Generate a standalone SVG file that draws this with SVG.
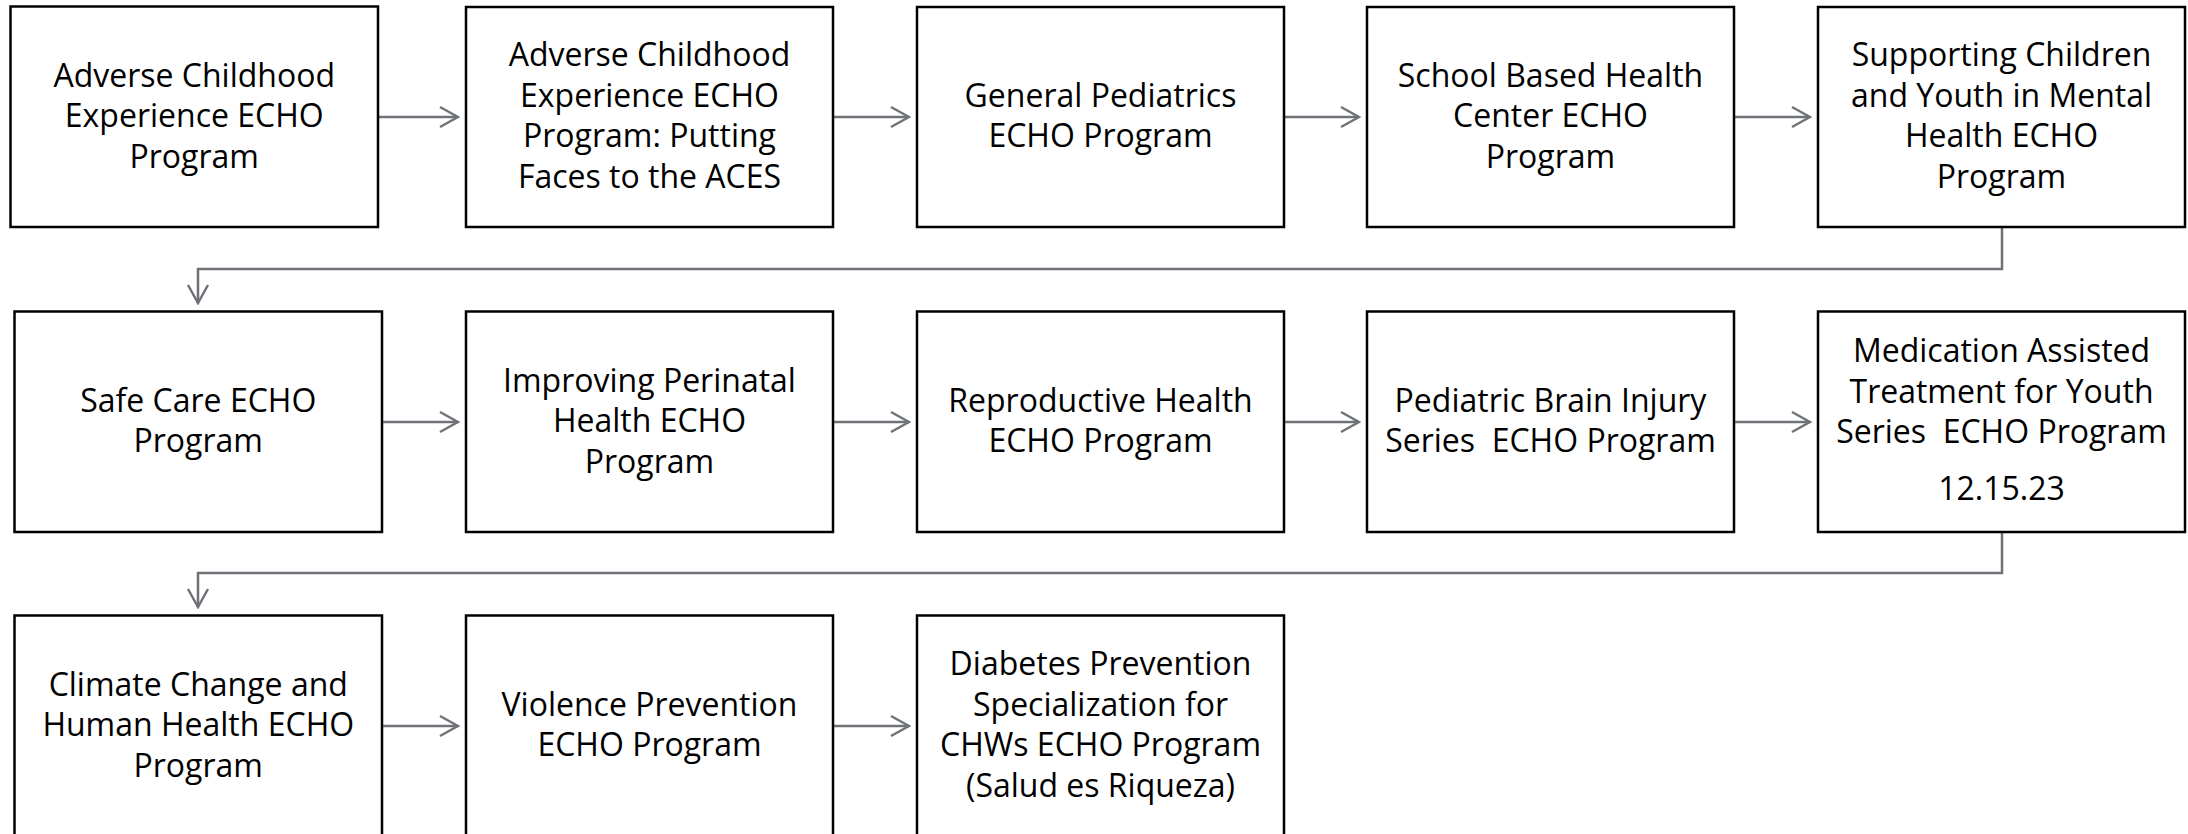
<svg xmlns="http://www.w3.org/2000/svg" width="2188" height="834" viewBox="0 0 2188 834">
<style>
.box{fill:#fff;stroke:#000;stroke-width:2.5}
.lbl{font-family:"Open Sans","Noto Sans","Liberation Sans",sans-serif;font-size:32px;fill:#000;text-anchor:middle}
.con{fill:none;stroke:#6f7378;stroke-width:2.5}
</style>
<defs>
<marker id="ah" markerUnits="userSpaceOnUse" viewBox="-22 -12 24 24" refX="0" refY="0" markerWidth="24" markerHeight="24" orient="auto">
<path d="M-18,-10 L0,0 L-18,10" fill="none" stroke="#6f7378" stroke-width="2.5"/>
</marker>
</defs>
<rect width="2188" height="834" fill="#fff"/>
<g id="connectors">
<path class="con" marker-end="url(#ah)" d="M378,117 H458"/>
<path class="con" marker-end="url(#ah)" d="M833,117 H909"/>
<path class="con" marker-end="url(#ah)" d="M1284,117 H1359"/>
<path class="con" marker-end="url(#ah)" d="M1734,117 H1810"/>
<path class="con" marker-end="url(#ah)" d="M2002,227 V269 H198 V303"/>
<path class="con" marker-end="url(#ah)" d="M382,422 H458"/>
<path class="con" marker-end="url(#ah)" d="M833,422 H909"/>
<path class="con" marker-end="url(#ah)" d="M1284,422 H1359"/>
<path class="con" marker-end="url(#ah)" d="M1734,422 H1810"/>
<path class="con" marker-end="url(#ah)" d="M2002,532 V573 H198 V607"/>
<path class="con" marker-end="url(#ah)" d="M382,726 H458"/>
<path class="con" marker-end="url(#ah)" d="M833,726 H909"/>
</g>
<g id="n1"><rect class="box" x="10.5" y="6.5" width="367.5" height="220.5"/>
<text class="lbl"><tspan x="194.25" y="86.5">Adverse Childhood</tspan><tspan x="194.25" y="127">Experience ECHO</tspan><tspan x="194.25" y="167.5">Program</tspan></text></g>
<g id="n2"><rect class="box" x="466" y="7" width="367" height="220"/>
<text class="lbl"><tspan x="649.5" y="66.25">Adverse Childhood</tspan><tspan x="649.5" y="106.75">Experience ECHO</tspan><tspan x="649.5" y="147.25">Program: Putting</tspan><tspan x="649.5" y="187.75">Faces to the ACES</tspan></text></g>
<g id="n3"><rect class="box" x="917" y="7" width="367" height="220"/>
<text class="lbl"><tspan x="1100.5" y="106.75">General Pediatrics</tspan><tspan x="1100.5" y="147.25">ECHO Program</tspan></text></g>
<g id="n4"><rect class="box" x="1367" y="7" width="367" height="220"/>
<text class="lbl"><tspan x="1550.5" y="86.5">School Based Health</tspan><tspan x="1550.5" y="127">Center ECHO</tspan><tspan x="1550.5" y="167.5">Program</tspan></text></g>
<g id="n5"><rect class="box" x="1818" y="7" width="367" height="220"/>
<text class="lbl"><tspan x="2001.5" y="66.25">Supporting Children</tspan><tspan x="2001.5" y="106.75">and Youth in Mental</tspan><tspan x="2001.5" y="147.25">Health ECHO</tspan><tspan x="2001.5" y="187.75">Program</tspan></text></g>
<g id="n6"><rect class="box" x="14.5" y="311.5" width="367.5" height="220.5"/>
<text class="lbl"><tspan x="198.25" y="411.75">Safe Care ECHO</tspan><tspan x="198.25" y="452.25">Program</tspan></text></g>
<g id="n7"><rect class="box" x="466" y="311.5" width="367" height="220.5"/>
<text class="lbl"><tspan x="649.5" y="391.5">Improving Perinatal</tspan><tspan x="649.5" y="432">Health ECHO</tspan><tspan x="649.5" y="472.5">Program</tspan></text></g>
<g id="n8"><rect class="box" x="917" y="311.5" width="367" height="220.5"/>
<text class="lbl"><tspan x="1100.5" y="411.75">Reproductive Health</tspan><tspan x="1100.5" y="452.25">ECHO Program</tspan></text></g>
<g id="n9"><rect class="box" x="1367" y="311.5" width="367" height="220.5"/>
<text class="lbl" xml:space="preserve"><tspan x="1550.5" y="411.75">Pediatric Brain Injury</tspan><tspan x="1550.5" y="452.25">Series  ECHO Program</tspan></text></g>
<g id="n10"><rect class="box" x="1818" y="311.5" width="367" height="220.5"/>
<text class="lbl" xml:space="preserve"><tspan x="2001.5" y="362">Medication Assisted</tspan><tspan x="2001.5" y="402.5">Treatment for Youth</tspan><tspan x="2001.5" y="443">Series  ECHO Program</tspan><tspan x="2001.5" y="500">12.15.23</tspan></text></g>
<g id="n11"><rect class="box" x="14.5" y="615.5" width="367.5" height="222"/>
<text class="lbl"><tspan x="198.25" y="695.5">Climate Change and</tspan><tspan x="198.25" y="736">Human Health ECHO</tspan><tspan x="198.25" y="776.5">Program</tspan></text></g>
<g id="n12"><rect class="box" x="466" y="615.5" width="367" height="222"/>
<text class="lbl"><tspan x="649.5" y="715.75">Violence Prevention</tspan><tspan x="649.5" y="756.25">ECHO Program</tspan></text></g>
<g id="n13"><rect class="box" x="917" y="615.5" width="367" height="222"/>
<text class="lbl"><tspan x="1100.5" y="675.25">Diabetes Prevention</tspan><tspan x="1100.5" y="715.75">Specialization for</tspan><tspan x="1100.5" y="756.25">CHWs ECHO Program</tspan><tspan x="1100.5" y="796.75">(Salud es Riqueza)</tspan></text></g>
</svg>
